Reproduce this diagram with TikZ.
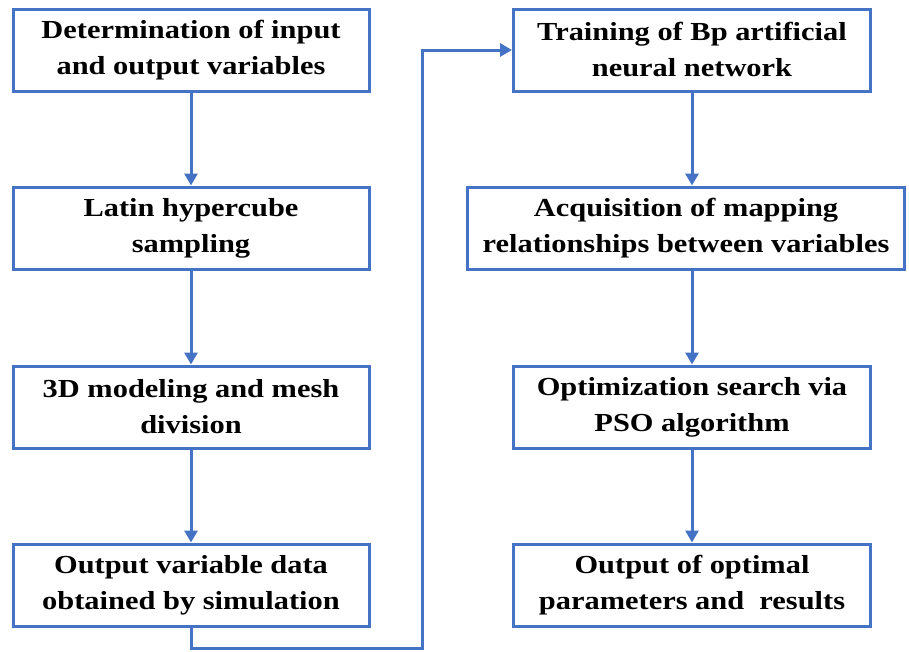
\documentclass[tikz,border=0pt]{standalone}
\usepackage{fontspec}
\setmainfont[FakeStretch=1.17]{Liberation Serif}
\usetikzlibrary{arrows.meta}
\definecolor{flowblue}{RGB}{68,114,196}
\tikzset{
    flow-box/.style = {draw=flowblue, fill=white, line width=3pt, rectangle, minimum height=82pt, align=center, inner sep=2pt, font=\fontsize{26}{36}\selectfont\bfseries},
    flow-arrow/.style = {draw=flowblue, line width=3pt, -{Triangle[width=13pt,length=12pt]}},
}
\begin{document}
\begin{tikzpicture}[x=1pt,y=-1pt]
\useasboundingbox (0,0) rectangle (909,651);
% left column
\node [flow-box, minimum width=356pt] (io) at (191,50) {Determination of input\\and output variables};
\node [flow-box, minimum width=356pt] (lhs) at (191,228) {Latin hypercube\\sampling};
\node [flow-box, minimum width=356pt] (mesh) at (191,407) {3D modeling and mesh\\division};
\node [flow-box, minimum width=356pt] (sim) at (191,585) {Output variable data\\obtained by simulation};
% right column
\node [flow-box, minimum width=357pt] (bp) at (692,50) {Training of Bp artificial\\neural network};
\node [flow-box, minimum width=437pt] (map) at (686,228) {Acquisition of mapping\\relationships between variables};
\node [flow-box, minimum width=357pt] (pso) at (692,407) {Optimization search via\\PSO algorithm};
\node [flow-box, minimum width=357pt] (res) at (692,585) {Output of optimal\\parameters and~ results};
\coordinate (turn) at (422,648);
\draw [flow-arrow] (io) -- (lhs);
\draw [flow-arrow] (lhs) -- (mesh);
\draw [flow-arrow] (mesh) -- (sim);
\draw [flow-arrow] (sim.south) |- (turn) |- (bp.west);
\draw [flow-arrow] (bp.south) -- (bp.south |- map.north);
\draw [flow-arrow] (pso.north |- map.south) -- (pso.north);
\draw [flow-arrow] (pso) -- (res);
\end{tikzpicture}
\end{document}
